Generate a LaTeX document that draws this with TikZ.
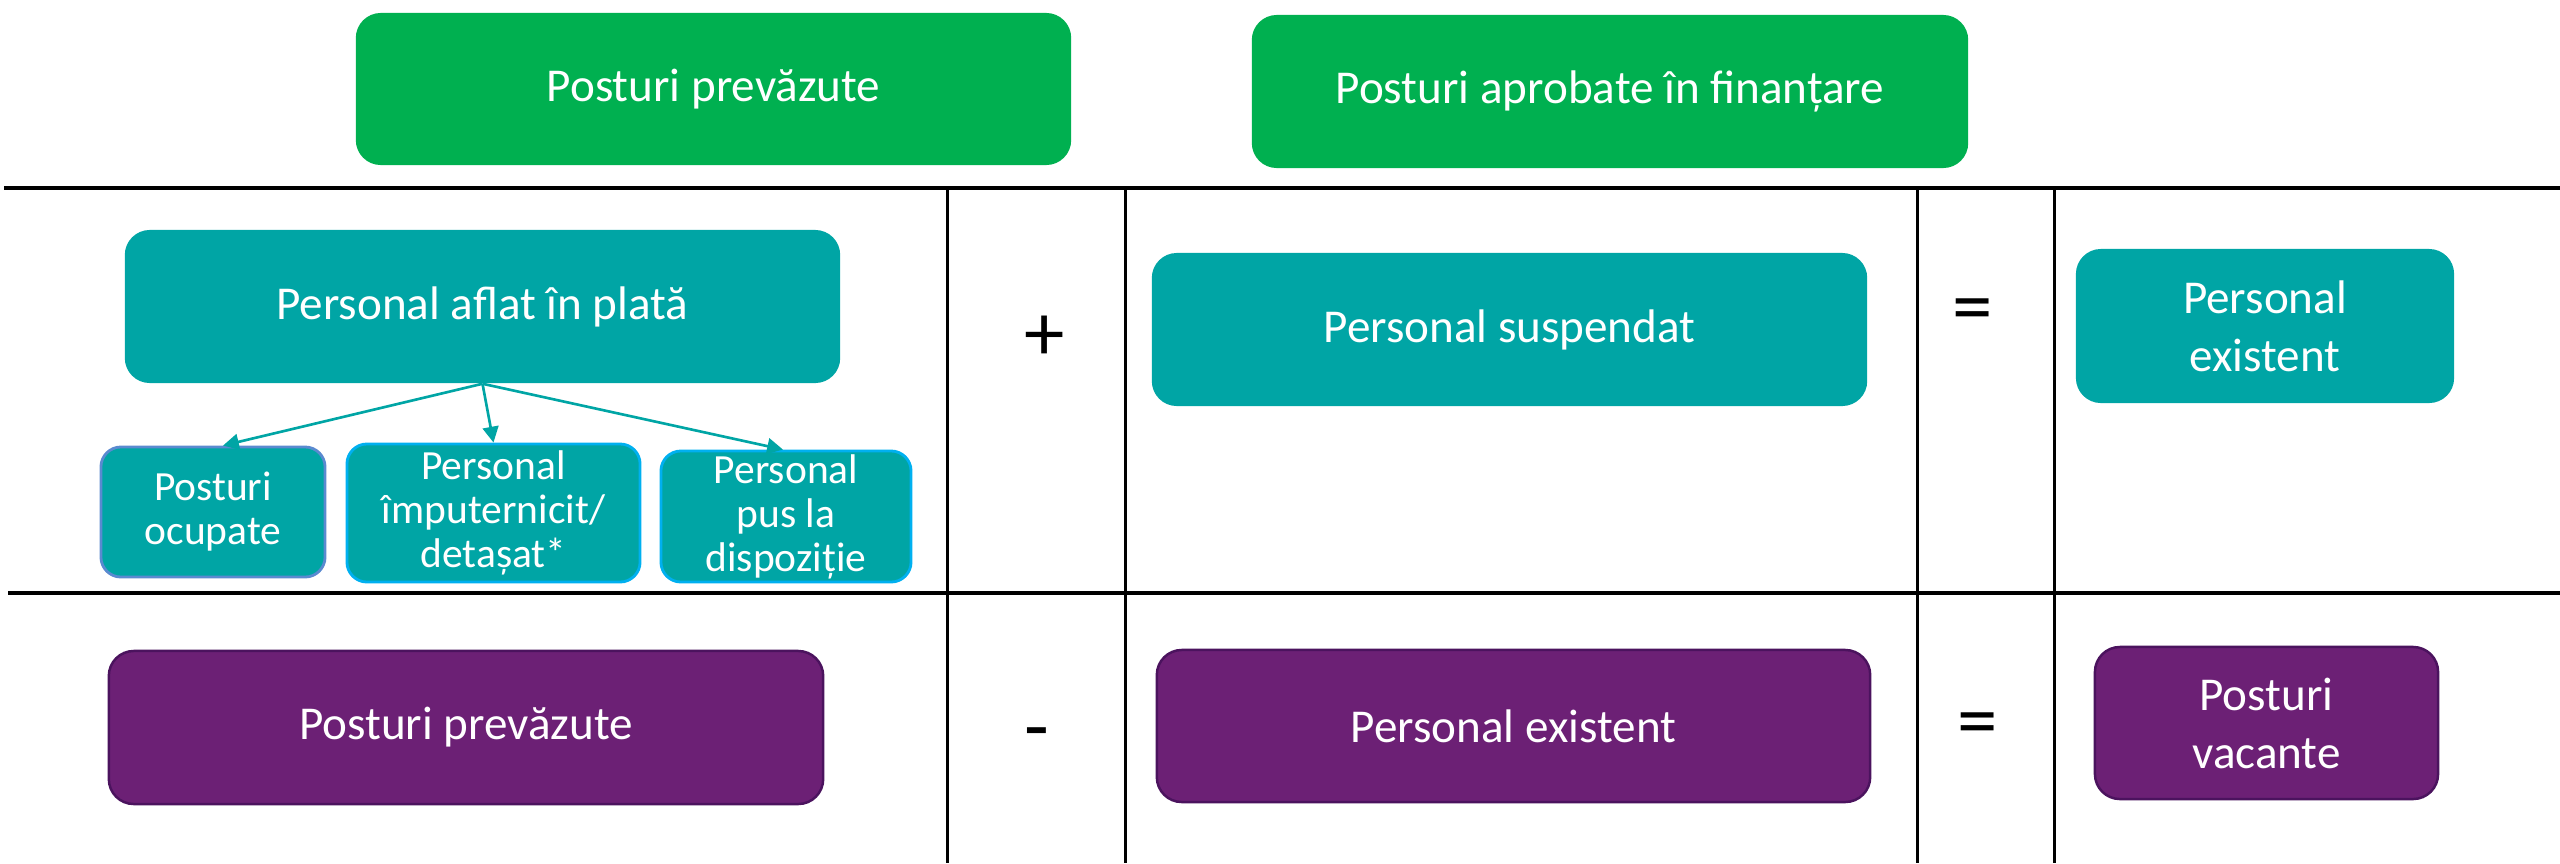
\documentclass[tikz,border=0pt]{standalone}
\usepackage{fontspec}
\setmainfont{Carlito}
\usetikzlibrary{arrows.meta}
\definecolor{hdgreen}{HTML}{00B050}
\definecolor{tealc}{HTML}{00A5A5}
\definecolor{purplec}{HTML}{6C2075}
\definecolor{purpleedge}{HTML}{4B135E}
\definecolor{blueedge}{HTML}{5A8AD0}
\definecolor{cyanedge}{HTML}{00B0F0}
\begin{document}
\begin{tikzpicture}[x=0.01cm,y=-0.01cm,
  box/.style={rounded corners=0.25cm, text=white, align=center, inner sep=0pt,
              font=\fontsize{13.4}{16.5}\selectfont},
  greenbox/.style={box, fill=hdgreen},
  tealbox/.style={box, fill=tealc},
  purplebox/.style={box, fill=purplec, draw=purpleedge, line width=0.7pt},
  smallbox/.style={box, fill=tealc, line width=0.8pt, rounded corners=0.2cm,
                   font=\fontsize{11.8}{12.5}\selectfont},
  op/.style={font=\fontsize{23}{23}\selectfont, inner sep=0pt, text=black},
  arr/.style={draw=tealc, line width=0.75pt, -{Triangle[length=4.5pt,width=4.5pt]}},
  hrule/.style={line width=1.1pt, black},
  vrule/.style={line width=0.85pt, black}]

% page frame
\path[use as bounding box] (0,0) rectangle (2560,863);

% table grid
\draw[hrule] (4,188) -- (2560,188);
\draw[hrule] (8,593) -- (2560,593);
\foreach \xx in {947,1125,1917,2054}
  \draw[vrule] (\xx,188) -- (\xx,863);

% header row
\node[greenbox, minimum width=7.15cm, minimum height=1.52cm] (g1) at (713.5,89) {Posturi prevăzute};
\node[greenbox, minimum width=7.16cm, minimum height=1.53cm] (g2) at (1610,91.5) {Posturi aprobate în finanțare};

% first row: staff
\node[tealbox, minimum width=7.15cm, minimum height=1.53cm] (pap) at (482.5,306.5) {Personal aflat în plată};
\node[smallbox, draw=blueedge, minimum width=2.24cm, minimum height=1.30cm] (po) at (213,512) {Posturi\\ocupate};
\node[smallbox, draw=cyanedge, minimum width=2.93cm, minimum height=1.38cm] (pi) at (493.5,513) {Personal\\împuternicit/\\detașat*};
\node[smallbox, draw=cyanedge, minimum width=2.50cm, minimum height=1.31cm] (pd) at (786,516.5) {Personal\\pus la\\dispoziție};

\draw[arr] (pap.south) -- ([xshift=0.1cm]po.north);
\draw[arr] (pap.south) -- (pi.north);
\draw[arr] (pap.south) -- ([xshift=-0.03cm]pd.north);

\node[op] (plus) at (1045,338) {+};
\node[tealbox, minimum width=7.15cm, minimum height=1.53cm] (ps) at (1509.5,329.5) {Personal suspendat};
\node[op] (eq1) at (1973,316) {=};
\node[tealbox, minimum width=3.78cm, minimum height=1.54cm] (pe) at (2265,326) {Personal\\existent};

% second row: vacancies
\node[purplebox, minimum width=7.14cm, minimum height=1.53cm] (pp) at (466,727.5) {Posturi prevăzute};
\node[op] (minus) at (1037,741) {-};
\node[purplebox, minimum width=7.13cm, minimum height=1.52cm] (pe2) at (1513.5,726) {Personal existent};
\node[op] (eq2) at (1978,730) {=};
\node[purplebox, minimum width=3.43cm, minimum height=1.52cm] (pv) at (2266.5,723) {Posturi\\vacante};
\end{tikzpicture}
\end{document}
